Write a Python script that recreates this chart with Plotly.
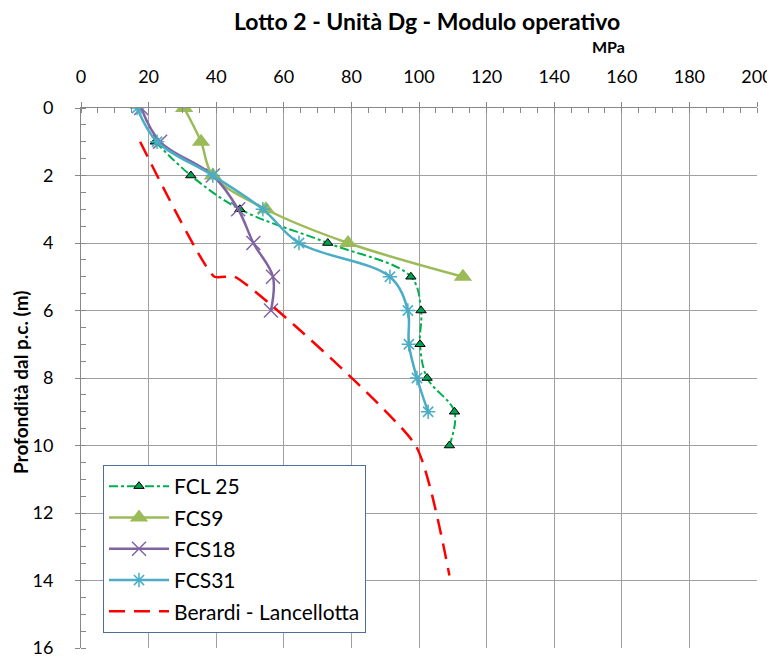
import plotly.graph_objects as go

# depth (m) and operating modulus (MPa)
fcl25_depth = [1, 2, 3, 4, 5, 6, 7, 8, 9, 10]
fcl25_mod = [22, 32.5, 47, 73, 97.6, 100.6, 100.3, 102.4, 110.5, 109]

fcs9_depth = [0, 1, 2, 3, 4, 5]
fcs9_mod = [30.5, 35.5, 39, 54.7, 79, 113]

fcs18_depth = [0, 1, 2, 3, 4, 5, 6]
fcs18_mod = [17.8, 23.4, 39, 46.5, 51, 56.8, 56.2]

fcs31_depth = [0, 1, 2, 3, 4, 5, 6, 7, 8, 9]
fcs31_mod = [16.6, 22.5, 39, 53.8, 64.5, 91.4, 96.7, 97, 99.4, 102.7]

ber_depth = [1, 5, 5, 10, 13.85]
ber_mod = [17.5, 39.5, 45.5, 99, 109]

FONT = "Lato"
GRID = "#A0A0A0"
AX = "#888888"

# the page body has an 8px margin, so work in figure pixels = screen - 8
OFF = 8
W, H = 775 - OFF, 659 - OFF
L, R, T, B = 81 - OFF, 757 - OFF, 108 - OFF, 648 - OFF


def px(x):
    return (x - OFF - L) / (R - L)


def py(y):
    return 1 - (y - OFF - T) / (B - T)


fig = go.Figure()

fig.add_trace(go.Scatter(
    x=fcl25_mod, y=fcl25_depth, name="FCL 25", legendgroup="a",
    mode="lines+markers", line=dict(color="#00B050", width=2, dash="dashdot", shape="spline"),
    marker=dict(symbol="triangle-up", size=9, color="#00A050", line=dict(color="black", width=1)),
))
fig.add_trace(go.Scatter(
    x=fcs9_mod, y=fcs9_depth, name="FCS9", legendgroup="b",
    mode="lines+markers", line=dict(color="#9BBB59", width=2.5, shape="spline"),
    marker=dict(symbol="triangle-up", size=16, color="#9BBB59"),
))
fig.add_trace(go.Scatter(
    x=fcs18_mod, y=fcs18_depth, name="FCS18", legendgroup="c",
    mode="lines+markers", line=dict(color="#8064A2", width=2.5, shape="spline"),
    marker=dict(symbol="x-thin", size=14, line=dict(color="#8064A2", width=1.5)),
))
fig.add_trace(go.Scatter(
    x=fcs31_mod, y=fcs31_depth, name="FCS31", legendgroup="d",
    mode="lines+markers", line=dict(color="#4BACC6", width=2.5, shape="spline"),
    marker=dict(symbol="asterisk-open", size=12, line=dict(color="#4BACC6", width=1.5)),
))
fig.add_trace(go.Scatter(
    x=ber_mod, y=ber_depth, name="Berardi - Lancellotta", legendgroup="e",
    mode="lines", line=dict(color="#FF0000", width=2.5, dash="16px,9px", shape="spline", smoothing=0.5),
))

fig.update_layout(
    width=W, height=H,
    margin=dict(l=L, r=W - R, t=T, b=H - B),
    paper_bgcolor="white", plot_bgcolor="white",
    font=dict(family=FONT, size=18, color="black"),
    showlegend=True,
    legend=dict(
        x=px(103), y=py(465), xanchor="left", yanchor="top",
        bgcolor="white", bordercolor="#4F6D9A", borderwidth=1,
        font=dict(family=FONT, size=21), itemwidth=60, tracegroupgap=1,
    ),
    annotations=[
        dict(text="<b>Lotto 2 - Unità Dg - Modulo operativo</b>", x=px(427), y=py(21),
             xref="paper", yref="paper", xanchor="center", yanchor="middle",
             showarrow=False, font=dict(size=23)),
        dict(text="<b>MPa</b>", x=px(608), y=py(46), xref="paper", yref="paper",
             xanchor="center", yanchor="middle", showarrow=False, font=dict(size=16)),
        dict(text="<b>Profondità dal p.c. (m)</b>", x=px(20), y=py(382),
             xref="paper", yref="paper", xanchor="center", yanchor="middle",
             showarrow=False, textangle=-90, font=dict(size=19)),
    ],
)

fig.update_xaxes(
    side="top", range=[0, 200], dtick=20, tick0=0, automargin=False,
    showline=True, linecolor=AX, linewidth=1,
    showgrid=True, gridcolor=GRID, gridwidth=1, zeroline=False,
    ticks="outside", ticklen=5, tickcolor=AX, ticklabelstandoff=12,
    minor=dict(dtick=5, ticks="inside", ticklen=5, tickcolor=AX, showgrid=False),
)
fig.update_yaxes(
    range=[16, 0], dtick=2, tick0=0, automargin=False,
    showline=True, linecolor=AX, linewidth=1,
    showgrid=True, gridcolor=GRID, gridwidth=1, zeroline=False,
    ticks="outside", ticklen=5, tickcolor=AX, ticklabelstandoff=18,
    minor=dict(dtick=0.5, ticks="inside", ticklen=5, tickcolor=AX, showgrid=False),
)

fig.write_html("out.html")
